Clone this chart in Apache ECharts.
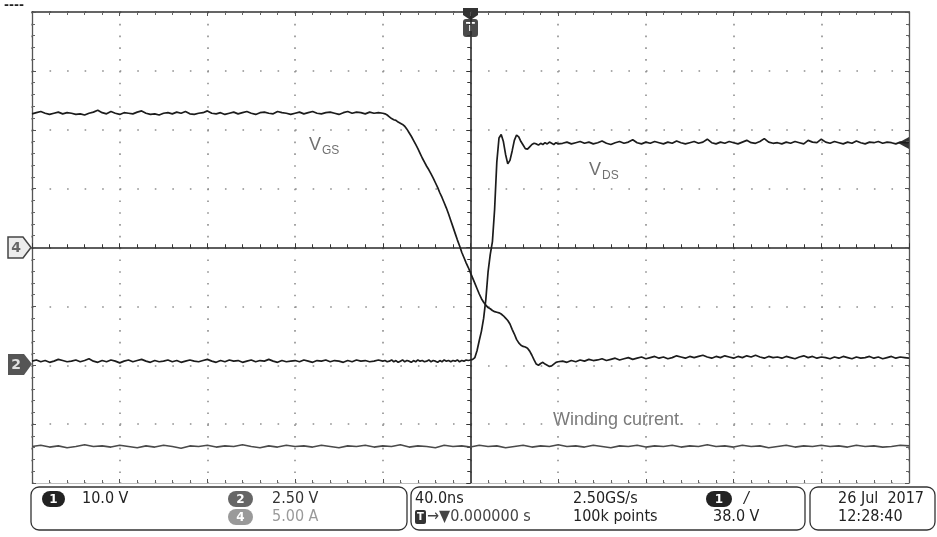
<!DOCTYPE html>
<html>
<head>
<meta charset="utf-8">
<script src="https://cdn.jsdelivr.net/npm/echarts@6/dist/echarts.min.js"></script>
<style>
html,body{margin:0;padding:0;background:#fff;}
#chart{width:937px;height:537px;}
</style>
</head>
<body>
<div id="chart"></div>
<script>
// ---------- DATA (screen divisions vs time in ns) ----------
// sample time grids (ns)
function range(a, b, s) { const r = []; for (let t = a; t <= b + 1e-9; t += s) r.push(+t.toFixed(3)); return r; }
const timeBefore = range(-200, -40, 2);   // 81 samples
const timeEdge   = range(-39, 40, 1);     // 80 samples
const timeAfter  = range(42, 200, 2);     // 80 samples
const timeCurrent = range(-200, 200, 4);  // 101 samples

// V_GS trace (divisions)
const vgsBefore = [
 2.27,2.29,2.31,2.28,2.26,2.28,2.30,2.27,2.29,2.28,
 2.26,2.27,2.25,2.28,2.30,2.33,2.29,2.27,2.31,2.28,
 2.26,2.29,2.28,2.27,2.30,2.32,2.28,2.26,2.27,2.25,
 2.28,2.29,2.27,2.30,2.28,2.31,2.27,2.26,2.28,2.29,
 2.32,2.28,2.27,2.29,2.26,2.28,2.30,2.27,2.29,2.31,
 2.28,2.26,2.29,2.30,2.28,2.27,2.31,2.29,2.28,2.26,
 2.28,2.30,2.27,2.29,2.31,2.28,2.27,2.29,2.30,2.28,
 2.26,2.29,2.31,2.28,2.30,2.29,2.27,2.30,2.28,2.29,
 2.28];
const vgsEdge = [
 2.27,2.25,2.22,2.19,2.17,2.16,2.13,2.11,2.09,2.06,
 2.01,1.95,1.89,1.82,1.75,1.68,1.60,1.52,1.45,1.38,
 1.32,1.25,1.18,1.10,1.02,0.93,0.85,0.76,0.67,0.57,
 0.46,0.35,0.24,0.13,0.03,-0.08,-0.17,-0.26,-0.34,-0.43,
 -0.52,-0.61,-0.70,-0.79,-0.87,-0.93,-0.98,-1.02,-1.04,-1.07,
 -1.09,-1.10,-1.11,-1.13,-1.16,-1.20,-1.24,-1.30,-1.39,-1.47,
 -1.56,-1.62,-1.66,-1.68,-1.69,-1.71,-1.76,-1.83,-1.91,-1.98,
 -2.00,-1.97,-1.95,-1.98,-2.00,-2.02,-2.01,-1.98,-1.95,-1.94];
const vgsAfter = [
 -1.93,-1.95,-1.92,-1.94,-1.91,-1.93,-1.90,-1.92,-1.91,-1.89,
 -1.92,-1.90,-1.88,-1.91,-1.89,-1.87,-1.90,-1.88,-1.86,-1.89,
 -1.87,-1.85,-1.88,-1.86,-1.89,-1.87,-1.84,-1.86,-1.88,-1.85,
 -1.87,-1.85,-1.83,-1.86,-1.88,-1.85,-1.87,-1.84,-1.86,-1.88,
 -1.85,-1.87,-1.84,-1.86,-1.83,-1.86,-1.88,-1.85,-1.87,-1.86,
 -1.88,-1.85,-1.87,-1.89,-1.86,-1.84,-1.87,-1.85,-1.88,-1.86,
 -1.87,-1.89,-1.86,-1.88,-1.85,-1.87,-1.89,-1.86,-1.88,-1.87,
 -1.85,-1.88,-1.86,-1.89,-1.87,-1.85,-1.88,-1.86,-1.87,-1.88];

// V_DS trace (divisions)
const vdsBefore = [
 -1.93,-1.91,-1.94,-1.92,-1.95,-1.93,-1.90,-1.92,-1.94,-1.93,
 -1.91,-1.94,-1.92,-1.89,-1.93,-1.95,-1.92,-1.94,-1.91,-1.93,
 -1.96,-1.93,-1.91,-1.94,-1.92,-1.90,-1.93,-1.95,-1.92,-1.94,
 -1.93,-1.91,-1.94,-1.92,-1.95,-1.93,-1.91,-1.93,-1.94,-1.92,
 -1.90,-1.93,-1.95,-1.92,-1.94,-1.91,-1.93,-1.92,-1.95,-1.93,
 -1.91,-1.94,-1.92,-1.93,-1.90,-1.93,-1.95,-1.92,-1.94,-1.93,
 -1.92,-1.94,-1.91,-1.93,-1.95,-1.92,-1.93,-1.91,-1.94,-1.92,
 -1.93,-1.95,-1.92,-1.94,-1.91,-1.93,-1.92,-1.94,-1.93,-1.91,
 -1.93];
const vdsEdge = [
 -1.92,-1.94,-1.93,-1.91,-1.94,-1.92,-1.95,-1.93,-1.91,-1.94,
 -1.92,-1.93,-1.95,-1.92,-1.94,-1.91,-1.93,-1.92,-1.94,-1.93,
 -1.91,-1.94,-1.92,-1.93,-1.95,-1.92,-1.94,-1.91,-1.93,-1.92,
 -1.94,-1.92,-1.93,-1.91,-1.94,-1.92,-1.93,-1.91,-1.92,
 -1.91,-1.90,-1.87,-1.75,-1.58,-1.42,-1.20,-0.88,-0.42,-0.12,
 0.10,0.65,1.45,1.86,1.92,1.80,1.58,1.42,1.48,1.64,
 1.82,1.91,1.88,1.80,1.74,1.68,1.67,1.71,1.75,1.77,
 1.76,1.74,1.77,1.75,1.78,1.76,1.79,1.77,1.75,1.78,
 1.76];
const vdsAfter = [
 1.77,1.79,1.76,1.78,1.80,1.77,1.79,1.76,1.78,1.81,
 1.77,1.75,1.78,1.80,1.77,1.79,1.83,1.78,1.76,1.79,
 1.77,1.80,1.78,1.76,1.79,1.77,1.81,1.78,1.76,1.78,
 1.80,1.77,1.79,1.84,1.78,1.76,1.79,1.77,1.80,1.78,
 1.76,1.79,1.82,1.78,1.77,1.80,1.85,1.79,1.77,1.78,
 1.76,1.79,1.77,1.80,1.78,1.76,1.82,1.79,1.78,1.84,
 1.79,1.77,1.80,1.78,1.76,1.79,1.77,1.81,1.78,1.76,
 1.79,1.78,1.80,1.77,1.79,1.78,1.76,1.79,1.78,1.78];

// Winding current trace (divisions)
const currentVals = [
 -3.38,-3.36,-3.39,-3.37,-3.40,-3.38,-3.35,-3.38,-3.37,-3.39,
 -3.36,-3.38,-3.40,-3.37,-3.39,-3.36,-3.38,-3.41,-3.37,-3.38,
 -3.36,-3.39,-3.37,-3.38,-3.35,-3.38,-3.40,-3.37,-3.39,-3.36,
 -3.38,-3.37,-3.39,-3.36,-3.38,-3.40,-3.37,-3.38,-3.36,-3.39,
 -3.37,-3.38,-3.35,-3.39,-3.37,-3.38,-3.40,-3.36,-3.38,-3.37,
 -3.39,-3.36,-3.38,-3.37,-3.40,-3.38,-3.36,-3.39,-3.37,-3.38,
 -3.35,-3.38,-3.37,-3.39,-3.36,-3.38,-3.40,-3.37,-3.38,-3.36,
 -3.39,-3.37,-3.38,-3.36,-3.39,-3.37,-3.38,-3.35,-3.38,-3.37,
 -3.39,-3.36,-3.38,-3.37,-3.40,-3.38,-3.36,-3.39,-3.37,-3.38,
 -3.36,-3.38,-3.37,-3.39,-3.36,-3.38,-3.37,-3.39,-3.38,-3.36,
 -3.37];

const xMin = -200, xMax = 200, xStep = 40;   // 40.0 ns/div
const yMin = -4, yMax = 4, yStep = 1;        // divisions

const traceLabels = ['V', 'GS', 'V', 'DS', 'Winding current.'];
const readoutTexts = ['10.0 V', '2.50 V', '5.00 A', '40.0ns', '→▼0.000000 s', '2.50GS/s', '100k points', '38.0 V', '26 Jul  2017', '12:28:40'];

// ---------- BUILD ----------
function zip(ts, vs) { return ts.map((t, i) => [t, vs[i]]); }
const vgsData = zip(timeBefore, vgsBefore).concat(zip(timeEdge, vgsEdge), zip(timeAfter, vgsAfter));
const vdsData = zip(timeBefore, vdsBefore).concat(zip(timeEdge, vdsEdge), zip(timeAfter, vdsAfter));
const curData = zip(timeCurrent, currentVals);

const chart = echarts.init(document.getElementById('chart'), null, {renderer: 'canvas'});
const TXT = "'DejaVu Sans Condensed','Liberation Sans Narrow','DejaVu Sans',sans-serif";

function edgeX(pos, color, w) {
  return {type:'value', min:xMin, max:xMax, interval:xStep, position:pos,
    axisLine:{show:true, onZero:false, lineStyle:{color:color, width:w}},
    axisTick:{show:true, inside:true, length:4, lineStyle:{color:'#555'}},
    minorTick:{show:true, splitNumber:5, length:3, lineStyle:{color:'#666'}},
    axisLabel:{show:false}, splitLine:{show:false}};
}
function edgeY(pos, color, w) {
  return {type:'value', min:yMin, max:yMax, interval:yStep, position:pos,
    axisLine:{show:true, onZero:false, lineStyle:{color:color, width:w}},
    axisTick:{show:true, inside:true, length:4, lineStyle:{color:'#555'}},
    minorTick:{show:true, splitNumber:5, length:3, lineStyle:{color:'#666'}},
    axisLabel:{show:false}, splitLine:{show:false}};
}
function centerX(inside, showLine) {
  return {type:'value', min:xMin, max:xMax, interval:xStep,
    axisLine:{show:showLine, onZero:true, lineStyle:{color:'#2a2a2a', width:1.6}},
    axisTick:{show:true, inside:inside, length:4, lineStyle:{color:'#333'}},
    minorTick:{show:true, splitNumber:5, length:3, lineStyle:{color:'#333'}},
    axisLabel:{show:false}, splitLine:{show:false}};
}
function centerY(inside, showLine) {
  return {type:'value', min:yMin, max:yMax, interval:yStep,
    axisLine:{show:showLine, onZero:true, lineStyle:{color:'#2a2a2a', width:1.6}},
    axisTick:{show:true, inside:inside, length:4, lineStyle:{color:'#333'}},
    minorTick:{show:true, splitNumber:5, length:3, lineStyle:{color:'#333'}},
    axisLabel:{show:false}, splitLine:{show:false}};
}

const xGridAxis = centerX(true, true);
xGridAxis.splitLine = {show:true, lineStyle:{color:'#8f8f8f', width:1.6, type:[1.6, 10.18]}};
const yGridAxis = centerY(false, true);
yGridAxis.splitLine = {show:true, lineStyle:{color:'#8f8f8f', width:1.6, type:[1.6, 15.94]}};

const option = {
  animation:false,
  backgroundColor:'#ffffff',
  grid:{left:32, top:12, width:877, height:471, show:false},
  xAxis:[
    xGridAxis,
    edgeX('bottom', '#bdbdbd', 1),
    edgeX('top', '#333', 1.5),
    centerX(false, false)
  ],
  yAxis:[
    yGridAxis,
    edgeY('left', '#555', 1.3),
    edgeY('right', '#555', 1.3),
    centerY(true, false)
  ],
  series:[
    {name:'Winding current', type:'line', data:curData, showSymbol:false, z:5,
     lineStyle:{color:'#4a4a4a', width:1.6}},
    {name:'VDS', type:'line', data:vdsData, showSymbol:false, z:6,
     lineStyle:{color:'#1c1c1c', width:1.7}},
    {name:'VGS', type:'line', data:vgsData, showSymbol:false, z:7,
     lineStyle:{color:'#1c1c1c', width:1.7}}
  ],
  graphic:[
    // top-left dashes
    {type:'text', left:4, top:0, style:{text:'----', fill:'#222', font:"bold 12px 'DejaVu Sans'"}},
    // trigger marker
    {type:'polygon', shape:{points:[[463,8],[478,8],[478,15],[470.5,20],[463,15]]}, style:{fill:'#333'}},
    {type:'rect', shape:{x:463, y:19, width:15, height:18, r:3}, style:{fill:'#4a4a4a'}},
    {type:'text', x:470.5, y:28, style:{text:'T', fill:'#fff', font:"bold 13px 'DejaVu Sans'", align:'center', verticalAlign:'middle'}},
    // trigger level arrow at right
    {type:'polygon', shape:{points:[[898,143],[909,137],[909,149]]}, style:{fill:'#333'}},
    // channel markers
    {type:'polygon', shape:{points:[[8,237],[23,237],[31,247.5],[23,258],[8,258]]}, style:{fill:'#ececec', stroke:'#444', lineWidth:1.5}},
    {type:'text', x:16, y:248, style:{text:'4', fill:'#666', font:"bold 14px 'DejaVu Sans'", align:'center', verticalAlign:'middle'}},
    {type:'polygon', shape:{points:[[8,354],[24,354],[32,364],[24,375],[8,375]]}, style:{fill:'#555'}},
    {type:'text', x:16, y:365, style:{text:'2', fill:'#e0e0e0', font:"bold 14px 'DejaVu Sans'", align:'center', verticalAlign:'middle'}},
    // trace labels
    {type:'text', x:309, y:136, style:{text:traceLabels[0], fill:'#707070', font:"18px 'Liberation Sans'"}},
    {type:'text', x:322, y:145, style:{text:traceLabels[1], fill:'#707070', font:"12px 'Liberation Sans'"}},
    {type:'text', x:589, y:161, style:{text:traceLabels[2], fill:'#707070', font:"18px 'Liberation Sans'"}},
    {type:'text', x:602, y:170, style:{text:traceLabels[3], fill:'#707070', font:"12px 'Liberation Sans'"}},
    {type:'text', x:553, y:411, style:{text:traceLabels[4], fill:'#7a7a7a', font:"18px 'Liberation Sans'"}},
    // readout boxes
    {type:'rect', shape:{x:31, y:487, width:376, height:43, r:8}, style:{fill:'none', stroke:'#333', lineWidth:1.3}},
    {type:'rect', shape:{x:411, y:487, width:394, height:43, r:8}, style:{fill:'none', stroke:'#333', lineWidth:1.3}},
    {type:'rect', shape:{x:810, y:487, width:125, height:43, r:8}, style:{fill:'none', stroke:'#333', lineWidth:1.3}},
    // channel pills
    {type:'rect', shape:{x:42, y:491, width:23, height:16, r:8}, style:{fill:'#222'}},
    {type:'text', x:53.5, y:499.5, style:{text:'1', fill:'#fff', font:"bold 12px 'DejaVu Sans'", align:'center', verticalAlign:'middle'}},
    {type:'text', x:82, y:499, style:{text:readoutTexts[0], fill:'#222', font:'16px ' + TXT, verticalAlign:'middle'}},
    {type:'rect', shape:{x:228, y:491, width:25, height:16, r:8}, style:{fill:'#666'}},
    {type:'text', x:240.5, y:499.5, style:{text:'2', fill:'#fff', font:"bold 12px 'DejaVu Sans'", align:'center', verticalAlign:'middle'}},
    {type:'text', x:272, y:499, style:{text:readoutTexts[1], fill:'#333', font:'16px ' + TXT, verticalAlign:'middle'}},
    {type:'rect', shape:{x:228, y:509, width:25, height:16, r:8}, style:{fill:'#9a9a9a'}},
    {type:'text', x:240.5, y:517.5, style:{text:'4', fill:'#fff', font:"bold 12px 'DejaVu Sans'", align:'center', verticalAlign:'middle'}},
    {type:'text', x:272, y:517, style:{text:readoutTexts[2], fill:'#9a9a9a', font:'16px ' + TXT, verticalAlign:'middle'}},
    {type:'text', x:415, y:499, style:{text:readoutTexts[3], fill:'#222', font:'16px ' + TXT, verticalAlign:'middle'}},
    {type:'rect', shape:{x:415, y:510, width:11, height:14, r:2}, style:{fill:'#333'}},
    {type:'text', x:420.5, y:517.5, style:{text:'T', fill:'#fff', font:"bold 10px 'DejaVu Sans'", align:'center', verticalAlign:'middle'}},
    {type:'text', x:427, y:517, style:{text:readoutTexts[4], fill:'#444', font:'16px ' + TXT, verticalAlign:'middle'}},
    {type:'text', x:573, y:499, style:{text:readoutTexts[5], fill:'#222', font:'16px ' + TXT, verticalAlign:'middle'}},
    {type:'text', x:573, y:517, style:{text:readoutTexts[6], fill:'#222', font:'16px ' + TXT, verticalAlign:'middle'}},
    {type:'rect', shape:{x:706, y:491, width:26, height:16, r:8}, style:{fill:'#222'}},
    {type:'text', x:719, y:499.5, style:{text:'1', fill:'#fff', font:"bold 12px 'DejaVu Sans'", align:'center', verticalAlign:'middle'}},
    {type:'text', x:744, y:499, style:{text:'/', fill:'#222', font:'italic 16px ' + TXT, verticalAlign:'middle'}},
    {type:'text', x:713, y:517, style:{text:readoutTexts[7], fill:'#222', font:'16px ' + TXT, verticalAlign:'middle'}},
    {type:'text', x:838, y:499, style:{text:readoutTexts[8], fill:'#222', font:'16px ' + TXT, verticalAlign:'middle'}},
    {type:'text', x:838, y:517, style:{text:readoutTexts[9], fill:'#222', font:'16px ' + TXT, verticalAlign:'middle'}}
  ]
};
chart.setOption(option);
</script>
</body>
</html>
